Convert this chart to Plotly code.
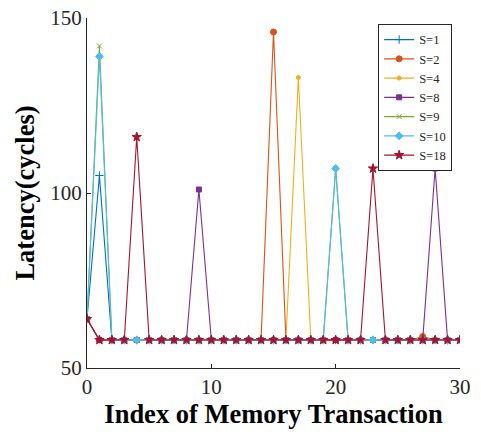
import plotly.graph_objects as go

x_index = list(range(31))
base = 58

def series(peaks):
    vals = [64] + [base] * 30
    for k, v in peaks.items():
        vals[k] = v
    return vals

s1 = series({1: 105})
s2 = series({15: 146, 27: 59})
s4 = series({17: 133})
s8 = series({9: 101, 28: 107})
s9 = series({1: 142, 20: 107})
s10 = series({1: 139, 20: 107})
s18 = series({4: 116, 23: 107})

names = ["S=1", "S=2", "S=4", "S=8", "S=9", "S=10", "S=18"]
values = [s1, s2, s4, s8, s9, s10, s18]
colors = ["#0072BD", "#D95319", "#EDB120", "#7E2F8E", "#77AC30", "#4DBEEE", "#A2142F"]
symbols = ["cross-thin", "circle", "circle", "square", "x-thin", "diamond", "star"]
sizes = [6, 6, 4, 5, 5, 6, 7]

fig = go.Figure()
for n, v, c, s, sz in zip(names, values, colors, symbols, sizes):
    fig.add_trace(go.Scatter(
        x=x_index, y=v, name=n, mode="lines+markers",
        line=dict(color=c, width=1.1),
        marker=dict(symbol=s, size=sz, color=c, line=dict(color=c, width=1)),
    ))

font = "Liberation Serif, Times New Roman, serif"
fig.update_layout(
    width=481, height=434,
    margin=dict(l=87, r=21, t=18, b=66),
    plot_bgcolor="white", paper_bgcolor="white",
    font=dict(family=font, color="#262626"),
    showlegend=True,
    legend=dict(
        x=0.979, y=0.983, xanchor="right", yanchor="top",
        bgcolor="white", bordercolor="#262626", borderwidth=1,
        font=dict(size=12.5, family=font, color="#262626"),
        tracegroupgap=0, itemwidth=30,
    ),
    xaxis=dict(
        range=[0, 30], tickvals=[0, 10, 20, 30], automargin=False,
        showline=True, linecolor="#262626", linewidth=1,
        ticks="inside", ticklen=4, tickcolor="#262626",
        showgrid=False, zeroline=False, mirror=False,
        tickfont=dict(size=21, family=font, color="#262626"),
        title=dict(text="<b>Index of Memory Transaction</b>", font=dict(size=26.5, family=font, color="#000"), standoff=0),
    ),
    yaxis=dict(
        range=[50, 150], tickvals=[50, 100, 150], automargin=False,
        showline=True, linecolor="#262626", linewidth=1,
        ticks="inside", ticklen=4, tickcolor="#262626",
        showgrid=False, zeroline=False, mirror=False,
        tickfont=dict(size=21, family=font, color="#262626"),
        title=dict(text="<b>Latency(cycles)</b>", font=dict(size=26.5, family=font, color="#000"), standoff=8),
    ),
)

fig.write_html(
    "out.html",
    config={"displayModeBar": False},
    post_script="document.body.style.margin='0';document.body.style.overflow='hidden';",
)
